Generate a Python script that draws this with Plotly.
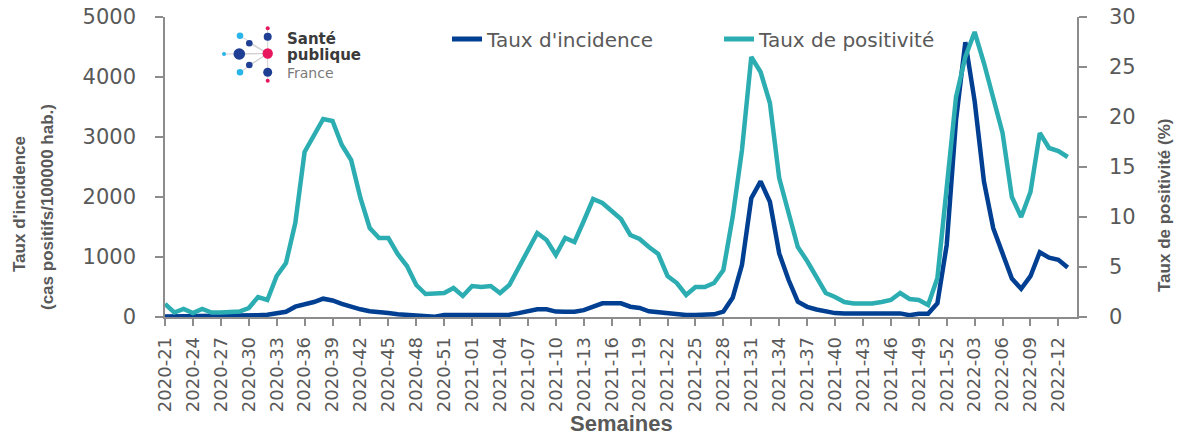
import plotly.graph_objects as go

# ---------------- data ----------------
weeks = ([f"2020-{w:02d}" for w in range(21, 54)] +
         [f"2021-{w:02d}" for w in range(1, 53)] +
         [f"2022-{w:02d}" for w in range(1, 14)])

incidence = [10, 10, 10, 10, 10, 10, 10, 10, 12, 18,
             28, 38, 55, 88, 172, 205, 250, 305, 275, 220,
             165, 128, 95, 88, 65, 45, 35, 30, 30, 5,
             35, 38, 38, 38, 38, 38, 38, 38, 65, 100,
             128, 128, 90, 88, 88, 115, 165, 228, 228, 228,
             172, 150, 95, 78, 60, 35, 33, 33, 33, 45,
             90, 320, 870, 1980, 2260, 1920, 1060, 620, 255, 170,
             125, 95, 65, 60, 60, 60, 60, 60, 60, 60,
             30, 55, 55, 230, 1200, 3283, 4580, 3600, 2260, 1480,
             1060, 640, 470, 680, 1080, 990, 955, 825]

positivite = [1.3, 0.45, 0.8, 0.4, 0.8, 0.45, 0.45, 0.45, 0.55, 0.9,
              2.0, 1.7, 4.1, 5.4, 9.4, 16.5, 18.2, 19.8, 19.6, 17.2,
              15.7, 11.9, 8.9, 7.9, 7.9, 6.3, 5.1, 3.2, 2.3, 2.3,
              2.4, 2.9, 2.1, 3.1, 3.0, 3.1, 2.4, 3.2, 4.9, 6.7,
              8.4, 7.7, 6.2, 7.9, 7.5, 9.6, 11.8, 11.4, 10.6, 9.8,
              8.2, 7.8, 7.0, 6.3, 4.1, 3.4, 2.2, 3.0, 3.0, 3.4,
              4.7, 10.0, 16.7, 26.0, 24.5, 21.4, 13.9, 10.4, 7.0, 5.6,
              4.0, 2.4, 2.0, 1.5, 1.35, 1.35, 1.35, 1.5, 1.7, 2.4,
              1.8, 1.7, 1.2, 3.9, 13.0, 22.0, 26.0, 28.5, 25.4, 22.0,
              18.4, 12.0, 10.0, 12.5, 18.4, 16.9, 16.6, 16.0]

tick_every = 3
tick_idx = list(range(0, len(weeks), tick_every))
tick_labels = [weeks[i] for i in tick_idx]

y_left_ticks = [0, 1000, 2000, 3000, 4000, 5000]
y_right_ticks = [0, 5, 10, 15, 20, 25, 30]

# ---------------- style ----------------
BLUE = "#003f91"
CYAN = "#2cadb2"
GREY_TXT = "#595959"
AXIS = "#8c8c8c"
W, H = 1179, 435
L, R, T, B = 165, 1077, 17, 317  # plot area in px

x_idx = list(range(len(weeks)))

fig = go.Figure()
fig.add_trace(go.Scatter(x=x_idx, y=incidence, name="Taux d'incidence",
                         mode="lines", line=dict(color=BLUE, width=4.5),
                         yaxis="y"))
fig.add_trace(go.Scatter(x=x_idx, y=positivite, name="Taux de positivité",
                         mode="lines", line=dict(color=CYAN, width=4.5),
                         yaxis="y2"))

tickfont = dict(family="DejaVu Sans", size=21, color=GREY_TXT)


def px(xp):
    """pixel x -> paper x"""
    return (xp - L) / (R - L)


def py(yp):
    """pixel y -> paper y"""
    return (B - yp) / (B - T)


fig.update_layout(
    template="none",
    width=W, height=H, autosize=False,
    margin=dict(l=L, r=W - R, t=T, b=H - B, pad=0),
    paper_bgcolor="white", plot_bgcolor="white",
    showlegend=True,
    legend=dict(orientation="h", x=px(447), y=py(39),
                xanchor="left", yanchor="middle",
                font=dict(family="DejaVu Sans", size=20, color=GREY_TXT),
                bgcolor="rgba(0,0,0,0)", entrywidth=227, entrywidthmode="pixels",
                itemsizing="constant"),
    xaxis=dict(range=[0, len(weeks)], tickmode="array", tickvals=tick_idx,
               ticktext=tick_labels, tickangle=-90, automargin=False,
               tickfont=dict(family="DejaVu Sans", size=18, color=GREY_TXT),
               showgrid=False, zeroline=False, showline=True,
               linecolor=AXIS, linewidth=1.5, ticks="outside", ticklen=7,
               tickcolor=AXIS, tickwidth=1.5, ticklabelstandoff=4),
    yaxis=dict(range=[0, 5000], tickmode="array", tickvals=y_left_ticks,
               tickfont=tickfont, showgrid=False, zeroline=False,
               automargin=False, ticklabeloverflow="allow",
               showline=True, linecolor=AXIS, linewidth=1.5,
               ticks="outside", ticklen=8, tickcolor=AXIS, tickwidth=1.5,
               ticklabelstandoff=15),
    yaxis2=dict(range=[0, 30], tickmode="array", tickvals=y_right_ticks,
                overlaying="y", side="right", anchor="x", automargin=False,
                ticklabeloverflow="allow",
                tickfont=tickfont, showgrid=False, zeroline=False,
                showline=True, linecolor=AXIS, linewidth=1.5,
                ticks="outside", ticklen=8, tickcolor=AXIS, tickwidth=1.5,
                ticklabelstandoff=18),
)

title_font = dict(family="Liberation Sans", size=17, color=GREY_TXT)
annotations = [
    dict(text="<b>Taux d'incidence</b>", x=px(19), y=py(204), xref="paper",
         yref="paper", textangle=-90, showarrow=False, font=title_font,
         xanchor="center", yanchor="middle"),
    dict(text="<b>(cas positifs/100000 hab.)</b>", x=px(47), y=py(207),
         xref="paper", yref="paper", textangle=-90, showarrow=False,
         font=title_font, xanchor="center", yanchor="middle"),
    dict(text="<b>Taux de positivité (%)</b>", x=px(1164), y=py(205),
         xref="paper", yref="paper", textangle=-90, showarrow=False,
         font=title_font, xanchor="center", yanchor="middle"),
    dict(text="<b>Semaines</b>", x=px(621), y=py(423), xref="paper",
         yref="paper", showarrow=False,
         font=dict(family="Liberation Sans", size=22, color=GREY_TXT),
         xanchor="center", yanchor="middle"),
    # logo text
    dict(text="<b>Santé</b>", x=px(285), y=py(39), xref="paper", yref="paper",
         showarrow=False, xanchor="left", yanchor="middle",
         font=dict(family="DejaVu Sans", size=15, color="#3a3a3a")),
    dict(text="<b>publique</b>", x=px(285), y=py(55), xref="paper",
         yref="paper", showarrow=False, xanchor="left", yanchor="middle",
         font=dict(family="DejaVu Sans", size=15, color="#3a3a3a")),
    dict(text="France", x=px(285), y=py(72.5), xref="paper", yref="paper",
         showarrow=False, xanchor="left", yanchor="middle",
         font=dict(family="DejaVu Sans", size=14, color="#7a7a7a")),
]
fig.update_layout(annotations=annotations)

# logo dots (decoration), in px
PINK = "#e8175d"
DBLUE = "#1f3f95"
LBLUE = "#29b5e8"
center = (267.7, 53.5)
dots = [
    (267.7, 28.3, 2.0, PINK), (267.7, 36.7, 4.0, DBLUE),
    (240.0, 35.7, 3.3, LBLUE), (249.3, 43.3, 3.3, DBLUE),
    (239.3, 54.0, 5.8, DBLUE), (224.0, 54.0, 2.0, LBLUE),
    (249.3, 65.0, 3.3, DBLUE), (240.0, 72.3, 3.3, LBLUE),
    (267.7, 72.3, 4.5, DBLUE), (267.7, 80.7, 2.0, PINK),
]
shapes = []
shapes.append(dict(type="line", xref="paper", yref="paper",
                   x0=px(267.7), x1=px(267.7), y0=py(29), y1=py(80),
                   line=dict(color="#d0d0d0", width=1)))
for (cx, cy, r, c) in dots:
    if cx < 260:
        shapes.append(dict(type="line", xref="paper", yref="paper",
                           x0=px(center[0]), y0=py(center[1]),
                           x1=px(cx), y1=py(cy),
                           line=dict(color="#d0d0d0", width=1)))
for (cx, cy, r, c) in dots + [(center[0], center[1], 5.2, PINK)]:
    shapes.append(dict(type="circle", xref="paper", yref="paper",
                       x0=px(cx - r), x1=px(cx + r), y0=py(cy + r), y1=py(cy - r),
                       fillcolor=c, line=dict(width=0)))
fig.update_layout(shapes=shapes)

# remove the default page margin so the figure fills the window exactly
fig.write_html("out.html",
               config={"displayModeBar": False},
               post_script="document.body.style.margin='0px';")
